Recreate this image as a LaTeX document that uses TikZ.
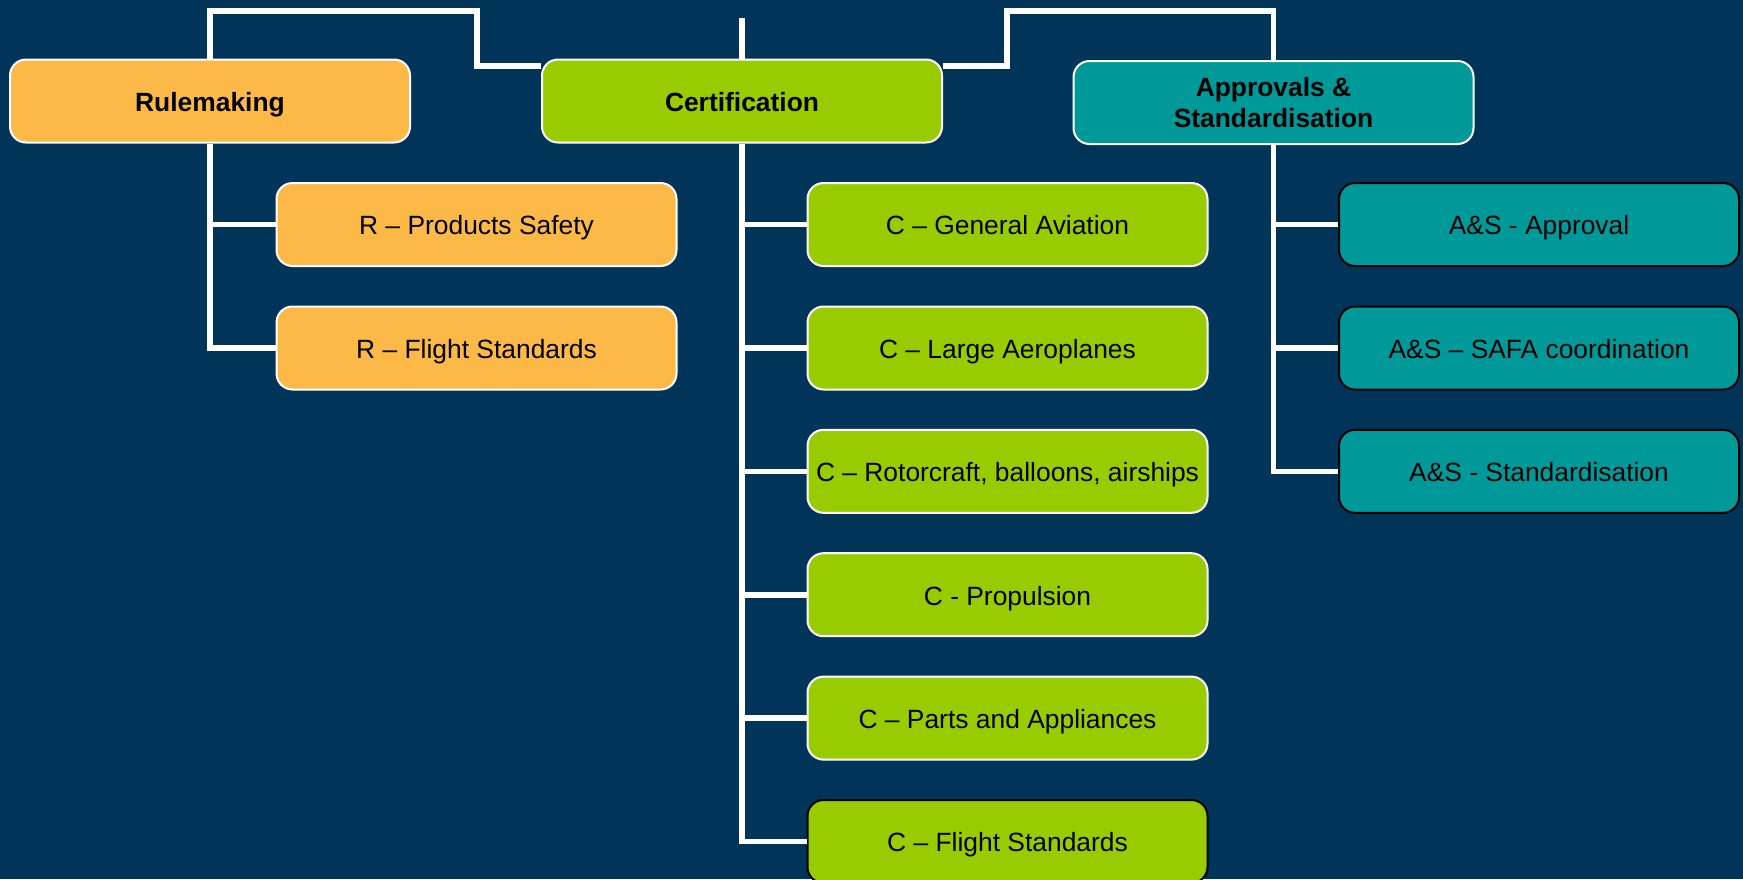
\documentclass[tikz,border=0pt]{standalone}
\usepackage{fontspec}
\setmainfont{Liberation Sans}
\definecolor{bgblue}{RGB}{0,52,89}
\definecolor{orng}{RGB}{252,185,71}
\definecolor{grn}{RGB}{153,204,0}
\definecolor{teal2}{RGB}{0,153,153}
\tikzset{
  box/.style={draw=white, line width=1pt, rounded corners=8pt, minimum width=200pt, minimum height=41.5pt, inner sep=0pt, align=center, text=black, text height=12pt, text depth=1.6pt, font=\fontsize{13.2pt}{15.5pt}\selectfont},
  head/.style={box, font=\bfseries\fontsize{13.2pt}{15.5pt}\selectfont},
  blk/.style={draw=black},
  rbox/.style={fill=orng},
  cbox/.style={fill=grn},
  abox/.style={fill=teal2},
  conn/.style={draw=white, line width=2.8pt}
}
\begin{document}
\begin{tikzpicture}[x=0.5pt,y=-0.5pt]
\useasboundingbox (0,0) rectangle (1743,879);
\clip (0,0) rectangle (1743,879);
\fill[bgblue] (0,0) rectangle (1743,879);

% headings
\node[head,rbox] (rule) at (210,101) {Rulemaking};
\node[head,cbox] (cert) at (742,101) {Certification};
\node[head,abox,text height={},text depth={}] (appr) at (1273.5,102.5) {Approvals \&\\Standardisation};

% rulemaking children
\node[box,rbox] (r1) at (476.5,224.5) {R – Products Safety};
\node[box,rbox] (r2) at (476.5,348) {R – Flight Standards};

% certification children
\node[box,cbox] (c1) at (1007.5,224.5) {C – General Aviation};
\node[box,cbox] (c2) at (1007.5,348) {C – Large Aeroplanes};
\node[box,cbox] (c3) at (1007.5,471.3) {C – Rotorcraft, balloons, airships};
\node[box,cbox] (c4) at (1007.5,594.7) {C - Propulsion};
\node[box,cbox] (c5) at (1007.5,718.1) {C – Parts and Appliances};
\node[box,cbox,blk] (c6) at (1007.5,841.5) {C – Flight Standards};

% approvals children
\node[box,abox,blk] (a1) at (1539,224.5) {A\&S - Approval};
\node[box,abox,blk] (a2) at (1539,348) {A\&S – SAFA coordination};
\node[box,abox,blk] (a3) at (1539,471.3) {A\&S - Standardisation};

% top connectors
\coordinate (ctop) at (742,18);
\draw[conn] (rule.north) -- (rule.north |- 0,11) -- (477,11) -- (477,66) -- (cert.west |- 0,66);
\draw[conn] (ctop) -- (cert.north);
\draw[conn] (cert.east |- 0,66) -- (1007,66) -- (1007,11) -- (appr.north |- 0,11) -- (appr.north);

% spines
\draw[conn] (rule.south) |- (r2.west);
\draw[conn] (rule.south |- r1.west) -- (r1.west);

\draw[conn] (cert.south) |- (c6.west);
\foreach \n in {c1,c2,c3,c4,c5}
  \draw[conn] (cert.south |- \n.west) -- (\n.west);

\draw[conn] (appr.south) |- (a3.west);
\foreach \n in {a1,a2}
  \draw[conn] (appr.south |- \n.west) -- (\n.west);
\end{tikzpicture}
\end{document}
